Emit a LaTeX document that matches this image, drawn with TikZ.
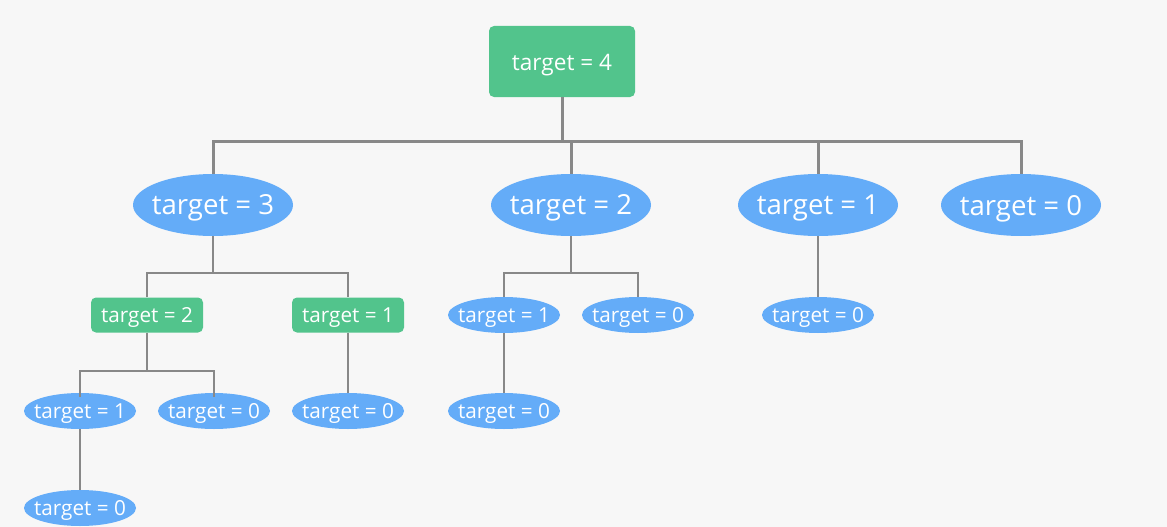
\documentclass[tikz,border=0pt]{standalone}
\usepackage{fontspec}
\setmainfont{Open Sans}
\usetikzlibrary{shapes.geometric}
\definecolor{bg}{HTML}{F7F7F7}
\definecolor{gbox}{HTML}{52C48C}
\definecolor{bell}{HTML}{64ACF8}
\definecolor{lin}{HTML}{888888}
\newcommand{\zb}[1]{\makebox[0pt]{#1}}
\begin{document}
\begin{tikzpicture}[x=1pt,y=-1pt,
  every node/.style={text depth=0pt},
  rootbox/.style={fill=gbox,rounded corners=5pt,minimum width=146pt,minimum height=71pt,inner sep=0pt,text=white,font=\fontsize{22.6}{26}\selectfont},
  gbig/.style={fill=gbox,rounded corners=5pt,minimum width=112pt,minimum height=35pt,inner sep=0pt,text=white,font=\fontsize{20.7}{24}\selectfont},
  ebig/.style={ellipse,fill=bell,minimum width=160pt,minimum height=62pt,inner sep=0pt,text=white,font=\fontsize{27.6}{32}\selectfont},
  esmall/.style={ellipse,fill=bell,minimum width=112pt,minimum height=36pt,inner sep=0pt,text=white,font=\fontsize{20.7}{24}\selectfont},
  thick line/.style={draw=lin,line width=3pt},
  thin line/.style={draw=lin,line width=1.6pt}]
\fill[bg] (0,0) rectangle (1167,527);
\useasboundingbox (0,0) rectangle (1167,527);

\node[rootbox] (r) at (562,61.5) {\raisebox{-2pt}{target = 4}};
\node[ebig] (a) at (213,205) {\zb{target = 3}};
\node[ebig] (b) at (571,205) {\zb{target = 2}};
\node[ebig] (c) at (818,205) {\zb{target = 1}};
\node[ebig] (d) at (1021,205) {\zb{target = 0}};

\node[gbig] (a1) at (147,315) {target = 2};
\node[gbig] (a2) at (348,315) {target = 1};
\node[esmall] (b1) at (504,315) {\zb{target = 1}};
\node[esmall] (b2) at (638,315) {\zb{target = 0}};
\node[esmall] (c1) at (818,315) {\zb{target = 0}};

\node[esmall] (a11) at (80,411) {\zb{target = 1}};
\node[esmall] (a12) at (214,411) {\zb{target = 0}};
\node[esmall] (a21) at (348,411) {\zb{target = 0}};
\node[esmall] (b11) at (504,411) {\zb{target = 0}};
\node[esmall] (a111) at (80,508) {\zb{target = 0}};

\coordinate (bus) at (562,141);
\draw[thick line] (r.south) -- (bus);
\draw[thick line] (a.north) |- (bus) -| (d.north);
\draw[thick line] (b.north) -- (b.north |- bus);
\draw[thick line] (c.north) -- (c.north |- bus);

\coordinate (abus) at (213,273);
\draw[thin line] (a.south) -- (abus);
\draw[thin line] (a1.north) |- (abus) -| (a2.north);

\coordinate (bbus) at (571,273);
\draw[thin line] (b.south) -- (bbus);
\draw[thin line] (b1.north) |- (bbus) -| (b2.north);

\draw[thin line] (c.south) -- (c1.north);

\coordinate (a1bus) at (147,371);
\draw[thin line] (a1.south) -- (a1bus);
\draw[thin line] ([yshift=-4pt]a11.north) |- (a1bus) -| ([yshift=-4pt]a12.north);

\draw[thin line] (a2.south) -- (a21.north);
\draw[thin line] (b1.south) -- (b11.north);
\draw[thin line] (a11.south) -- (a111.north);
\end{tikzpicture}
\end{document}
